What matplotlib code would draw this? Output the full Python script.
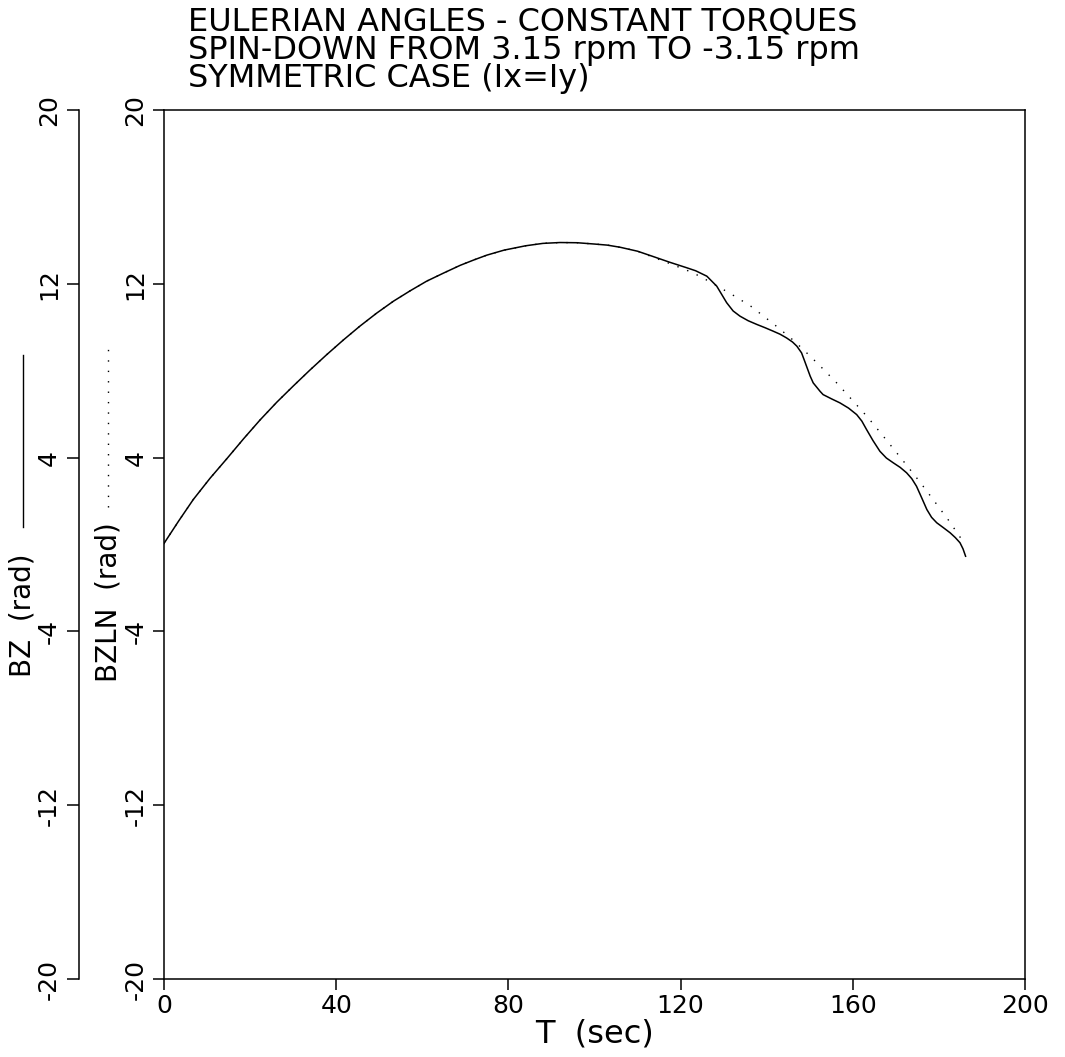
import matplotlib
matplotlib.use("Agg")
import matplotlib.pyplot as plt
from matplotlib.lines import Line2D

plt.rcParams['font.family'] = ['DejaVu Sans']
plt.rcParams['axes.unicode_minus'] = False

# Datos
titulo = ["EULERIAN ANGLES - CONSTANT TORQUES",
          "SPIN-DOWN FROM 3.15 rpm TO -3.15 rpm",
          "SYMMETRIC CASE (Ix=Iy)"]

# BZ (linea continua)
t_bz = [0, 3.4, 6.8, 10.7, 14.6, 18.5, 22.3, 26.2, 30.0, 33.9, 37.8, 41.7, 45.5,
        49.4, 53.3, 57.2, 61.0, 65.0, 68.8, 72.0, 75.0, 79.0, 84.0, 88.0, 92.0,
        96.0, 100.0, 103.0, 106.0, 110.0, 113.7, 117.5, 121.4, 123.5, 126.1,
        128.4, 130.7, 132.2, 133.8, 135.7, 137.7, 139.6, 141.5, 143.1, 144.6,
        146.0, 147.0, 148.1, 148.8, 150.1, 150.8, 152.4, 153.1, 155.1, 157.0,
        159.0, 160.9, 162.1, 163.2, 164.7, 166.3, 167.8, 169.4, 171.0, 172.5,
        173.7, 174.8, 176.0, 177.2, 178.3, 179.5, 181.0, 182.6, 183.8, 184.9,
        185.6, 186.2]
bz = [0.05, 1.08, 2.07, 3.05, 3.95, 4.87, 5.73, 6.55, 7.29, 8.03, 8.74, 9.42, 10.05,
      10.65, 11.2, 11.68, 12.12, 12.5, 12.85, 13.1, 13.32, 13.55, 13.75, 13.86, 13.9,
      13.89, 13.83, 13.78, 13.68, 13.5, 13.25, 12.99, 12.74, 12.6, 12.35,
      11.89, 11.13, 10.75, 10.51, 10.3, 10.13, 9.98, 9.82, 9.68, 9.51,
      9.32, 9.13, 8.82, 8.45, 7.75, 7.44, 7.05, 6.9, 6.7, 6.52,
      6.28, 5.98, 5.68, 5.29, 4.78, 4.29, 3.98, 3.76, 3.55, 3.3,
      3.03, 2.68, 2.15, 1.61, 1.25, 1.0, 0.78, 0.54, 0.32, 0.08,
      -0.2, -0.54]

# BZLN (linea punteada)
t_bzln = [0, 3.4, 6.8, 10.7, 14.6, 18.5, 22.3, 26.2, 30.0, 33.9, 37.8, 41.7, 45.5,
          49.4, 53.3, 57.2, 61.0, 65.0, 68.8, 72.0, 75.0, 79.0, 84.0, 88.0, 92.0,
          96.0, 100.0, 103.0, 106.0, 110.0, 113.7, 118.3, 122.6, 124.9, 128.5,
          132.4, 136.3, 141.8, 145.6, 148.1, 152.0, 156.2, 160.0, 163.5, 167.1,
          171.3, 175.7, 179.0, 182.3, 185.4]
bzln = [0.05, 1.08, 2.07, 3.05, 3.95, 4.87, 5.73, 6.55, 7.29, 8.03, 8.74, 9.42, 10.05,
        10.65, 11.2, 11.68, 12.12, 12.5, 12.85, 13.1, 13.32, 13.55, 13.75, 13.86, 13.9,
        13.89, 13.83, 13.78, 13.68, 13.5, 13.22, 12.87, 12.53, 12.3, 11.9,
        11.45, 10.97, 10.12, 9.5, 9.05, 8.3, 7.45, 6.62, 5.85, 4.98,
        3.95, 2.85, 1.98, 1.1, 0.2]

ticks_x = [0, 40, 80, 120, 160, 200]
ticks_y = [-20, -12, -4, 4, 12, 20]

W, H = 1065, 1057
fig = plt.figure(figsize=(W / 100, H / 100), dpi=100)
ax = fig.add_axes([164 / W, 1 - 979 / H, 861 / W, 869 / H])

PUNTEADO = (0, (1, 6.5))

ax.plot(t_bz, bz, color='black', lw=1.1)
ax.plot(t_bzln, bzln, color='black', lw=1.0, linestyle=PUNTEADO)

ax.set_xlim(0, 200)
ax.set_ylim(-20, 20)
ax.set_xticks(ticks_x)
ax.set_yticks(ticks_y)
ax.tick_params(direction='out', length=8, width=1.1, labelsize=18, pad=3)
ax.tick_params(axis='y', labelrotation=90, pad=4)
for lab in ax.get_yticklabels():
    lab.set_va('center')
for s in ax.spines.values():
    s.set_linewidth(1.1)
ax.set_xlabel("T  (sec)", fontsize=23, labelpad=0)

# Eje exterior (BZ)
ax2 = ax.twinx()
ax2.set_ylim(-20, 20)
ax2.set_yticks(ticks_y)
for lado in ['right', 'top', 'bottom']:
    ax2.spines[lado].set_visible(False)
ax2.spines['left'].set_visible(True)
ax2.spines['left'].set_position(('outward', (164 - 79) * 0.72))
ax2.spines['left'].set_linewidth(1.1)
ax2.yaxis.set_ticks_position('left')
ax2.tick_params(direction='out', length=9, width=1.1, labelsize=18, pad=4,
                labelrotation=90)
for lab in ax2.get_yticklabels():
    lab.set_va('center')

# Titulo
for i, linea in enumerate(titulo):
    fig.text(188 / W, 1 - (31 + 28 * i) / H, linea, fontsize=23,
             ha='left', va='baseline')

# Etiquetas de ejes y muestras de linea
fig.text(22 / W, 1 - 615 / H, "BZ  (rad)", rotation=90, fontsize=20,
         ha='center', va='center')
fig.text(108 / W, 1 - 602 / H, "BZLN  (rad)", rotation=90, fontsize=20,
         ha='center', va='center')
fig.add_artist(Line2D([23 / W, 23 / W], [1 - 527 / H, 1 - 355 / H],
                      transform=fig.transFigure, color='black', lw=1.0))
fig.add_artist(Line2D([108 / W, 108 / W], [1 - 507 / H, 1 - 342 / H],
                      transform=fig.transFigure, color='black', lw=1.0,
                      linestyle=PUNTEADO))

fig.savefig("out.png", dpi=100, facecolor='white')
